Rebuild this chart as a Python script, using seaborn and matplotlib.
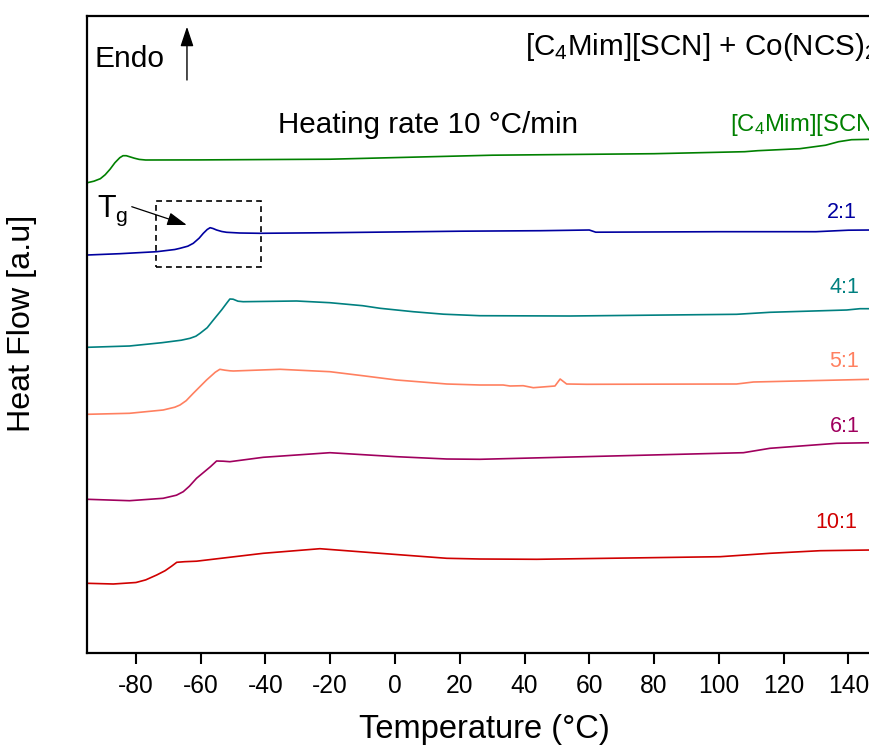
import matplotlib
matplotlib.use("Agg")
import matplotlib.pyplot as plt
from matplotlib.patches import Rectangle
import seaborn as sns
import pandas as pd

# ---------------- data (temperature in °C, heat flow in arbitrary units) ----------------
t_il = [-95, -93, -91, -89.5, -88, -86.5, -85, -84, -83, -82, -80.5, -79, -77, -60, -20, 30, 80, 108, 112, 125, 133, 137, 141, 147]
hf_il = [470, 471.5, 474, 478, 483.5, 490, 495, 497, 497, 496, 494.5, 493.3, 492.7, 492.8, 493.5, 497.5, 499, 501, 502, 504, 507.5, 511, 513, 513.4]

t_21 = [-95, -85, -73.6, -68, -66.4, -64, -62.3, -60.5, -59.2, -58, -57.1, -56.2, -55.1, -53.5, -52, -48, -41.7, -20, 20, 45, 60, 62, 100, 130, 140, 147]
hf_21 = [397.7, 399, 401, 403.2, 404.4, 406.5, 409.4, 414.5, 419.4, 423.2, 425, 424.2, 422.7, 421.2, 420.4, 419.7, 419.4, 420, 421.5, 422, 422.7, 420.5, 421, 421, 422.5, 422.7]

t_41 = [-95, -82, -72, -66, -63.3, -61.5, -60.2, -58, -56.1, -53.5, -52, -51, -50, -48.5, -46.9, -30.4, -20.1, -10, -4.6, 5.6, 15, 26.2, 54, 105.5, 115.8, 139.5, 143.6, 147]
hf_41 = [305.4, 306.7, 310, 312.5, 314.4, 316.5, 319.4, 325, 332.7, 343, 349.5, 353.7, 353.5, 351.5, 351, 351.7, 350, 347, 344.4, 341, 338.5, 337, 336.7, 338.4, 340.4, 342.7, 344, 344]

t_51 = [-95, -82, -71.6, -68, -66.4, -64.5, -62.3, -58.2, -55.5, -54.1, -52.5, -51, -49.9, -35.5, -20.1, -10, 0.5, 16, 26.2, 33.4, 35.5, 39.6, 42.7, 49.4, 51, 53, 59.2, 105.5, 110.7, 147]
hf_51 = [238.4, 239.4, 242.7, 245.5, 247.7, 252, 259.4, 272.7, 280.5, 283.4, 282.5, 281.9, 281.7, 283.4, 281, 277, 272.7, 268.7, 267.7, 267.7, 266.7, 267, 265, 266.7, 273.7, 268.7, 268.4, 268.7, 270.7, 273.4]

t_61 = [-95, -82, -71.6, -67.5, -65.4, -63.5, -61.3, -57, -55.1, -53, -51, -40.7, -20.1, 0.5, 16, 26.2, 107.6, 115.8, 136.4, 147]
hf_61 = [153.4, 152, 154.4, 157.5, 161, 166.5, 174.4, 186, 191.7, 191.5, 191, 195.4, 200, 196, 193.7, 193.4, 200, 204.4, 209.4, 210]

t_101 = [-95, -87, -80, -77, -73.6, -71, -69, -67.4, -65, -61.3, -40.7, -23.2, -4.6, 16, 26.2, 43.8, 100.4, 115.8, 131.3, 147]
hf_101 = [69.4, 68.7, 70.2, 72.8, 77.7, 82, 86.5, 90.4, 91, 91.5, 99.4, 104, 99.4, 94.4, 93.7, 93.4, 96, 99.4, 102, 102.7]

series_labels = [r"[C$_\mathregular{4}$Mim][SCN]", "2:1", "4:1", "5:1", "6:1", "10:1"]
series_colors = ["#008000", "#0000A0", "#008080", "#FF8060", "#A0005E", "#D00000"]
x_ticks = [-80, -60, -40, -20, 0, 20, 40, 60, 80, 100, 120, 140]

# ---------------- style ----------------
sns.set_style("white")
plt.rcParams["font.family"] = ["Liberation Sans", "DejaVu Sans"]
plt.rcParams["mathtext.fontset"] = "custom"
plt.rcParams["mathtext.rm"] = "Liberation Sans"
plt.rcParams["mathtext.it"] = "Liberation Sans:italic"
plt.rcParams["mathtext.bf"] = "Liberation Sans:bold"
plt.rcParams["text.color"] = "black"
plt.rcParams["axes.labelcolor"] = "black"
plt.rcParams["xtick.color"] = "black"
plt.rcParams["xtick.labelcolor"] = "black"

fig = plt.figure(figsize=(8.69, 7.51), dpi=100)
ax = fig.add_axes([87.4 / 869, 1 - 652.7 / 751, 793.3 / 869, 637 / 751])

all_t = [t_il, t_21, t_41, t_51, t_61, t_101]
all_hf = [hf_il, hf_21, hf_41, hf_51, hf_61, hf_101]
for t, hf, c in zip(all_t, all_hf, series_colors):
    df = pd.DataFrame({"T": t, "HF": hf})
    sns.lineplot(data=df, x="T", y="HF", color=c, lw=1.2, sort=False, estimator=None, ax=ax)

ax.set_xlim(-95, 150)
ax.set_ylim(0, 637)
ax.set_xticks(x_ticks)
ax.set_xticklabels([str(v) for v in x_ticks])
ax.set_yticks([])
ax.tick_params(axis="x", direction="out", length=8, width=1.5, pad=7, labelsize=17.7,
               bottom=True, colors="black")
for side in ["left", "bottom", "top", "right"]:
    ax.spines[side].set_linewidth(1.6)
    ax.spines[side].set_color("black")

ax.set_xlabel("Temperature (°C)", fontsize=23.5, color="black")
ax.set_ylabel("Heat Flow [a.u]", fontsize=23.2, color="black")
ax.xaxis.set_label_coords(0.5, -0.097)
ax.yaxis.set_label_coords(-0.0635, 0.517)

# ---------------- annotations ----------------
ax.text(40.1, 597.7, r"[C$_\mathregular{4}$Mim][SCN] + Co(NCS)$_\mathregular{2}$", fontsize=21.3,
        ha="left", va="baseline", color="black")
ax.text(-92.7, 586, "Endo", fontsize=21.5, ha="left", va="baseline", color="black")
ax.annotate("", xy=(-64.25, 626), xytext=(-64.25, 572.7),
            arrowprops=dict(arrowstyle="-|>,head_length=0.6,head_width=0.2", color="black",
                            lw=1.0, mutation_scale=20, shrinkA=0, shrinkB=0))
ax.text(-36.1, 519.4, "Heating rate 10 °C/min", fontsize=21.3, ha="left", va="baseline", color="black")

ax.text(103.5, 521.7, series_labels[0], fontsize=17.2, color=series_colors[0], ha="left", va="baseline")
ax.text(142.7, 434.7, series_labels[1], fontsize=15.5, color=series_colors[1], ha="right", va="baseline")
ax.text(143.3, 359.7, series_labels[2], fontsize=15.5, color=series_colors[2], ha="right", va="baseline")
ax.text(143.3, 285.7, series_labels[3], fontsize=15.5, color=series_colors[3], ha="right", va="baseline")
ax.text(143.6, 220.7, series_labels[4], fontsize=15.5, color=series_colors[4], ha="right", va="baseline")
ax.text(142.7, 124.7, series_labels[5], fontsize=15.5, color=series_colors[5], ha="right", va="baseline")

ax.text(-92, 435.7, r"T$_\mathregular{g}$", fontsize=22, ha="left", va="baseline", color="black")
ax.annotate("", xy=(-64.3, 427.7), xytext=(-81.3, 446),
            arrowprops=dict(arrowstyle="-|>,head_length=0.6,head_width=0.2", color="black",
                            lw=0.9, mutation_scale=20, shrinkA=0, shrinkB=0))
ax.add_patch(Rectangle((-73.8, 386), 32.4, 65.7, fill=False, edgecolor="black",
                       lw=1.2, linestyle=(0, (3.5, 2.5))))

fig.savefig("out.png", dpi=100)
